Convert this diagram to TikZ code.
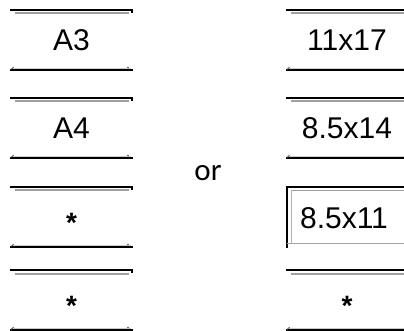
\documentclass[tikz,border=0pt]{standalone}
\usepackage{fontspec}
\setmainfont{Liberation Sans}
\newfontfamily\orfont{Carlito}
\begin{document}
\begin{tikzpicture}[x=1pt,y=-1pt,
  blackline/.style={line width=1.6pt, black},
  grayline/.style={line width=2pt, gray!75},
  thinblack/.style={line width=1.2pt, black},
  tickmark/.style={line width=0.8pt, black!70},
  lbl/.style={font=\fontsize{30}{32}\selectfont, inner sep=0pt, anchor=base},
  starlbl/.style={font=\fontsize{28}{30}\selectfont\bfseries, inner sep=0pt, anchor=base}]
\useasboundingbox (0,0) rectangle (404,331);
\newcommand\paperrow[4]{%
  % #1 x0, #2 x1, #3 top, #4 bottom
  \draw[blackline] (#1,#3) -- (#2,#3);
  \draw[grayline] (#1+5,#3+3.5) -- (#2-4,#3+3.5);
  \fill[black] (#2-2.5,#3) rectangle (#2,#3+3);
  \draw[line width=0.8pt, gray!40] (#1+2,#4-1.8) -- (#2-2,#4-1.8);
  \draw[thinblack] (#1,#4) -- (#2,#4);
  \draw[tickmark] (#1+1,#4-0.5) -- (#1+3.5,#4-2.8);
  \fill[black!70] (#2-5,#4-2.5) circle (0.8);
}
% left column
\paperrow{10}{133}{10}{70}
\paperrow{10}{133}{98}{158}
\paperrow{10}{133}{187}{247}
\paperrow{10}{133}{270}{330}
\node[lbl] (a3) at (71.5,51) {A3};
\node[lbl] (a4) at (71.5,139) {A4};
\node[starlbl] (s1) at (71.5,232) {*};
\node[starlbl] (s2) at (71.5,315) {*};
% or
\node[font=\orfont\fontsize{31}{33}\selectfont, inner sep=0pt, anchor=base] (or) at (208,181) {or};
% right column
\paperrow{286}{410}{10}{70}
\paperrow{286}{410}{98}{158}
\paperrow{286}{410}{270}{330}
% selected box (sunken frame)
\draw[blackline] (286,187) -- (410,187);
\draw[blackline] (287,187) -- (287,248);
\draw[line width=1.5pt, gray!75] (291,190.5) -- (410,190.5);
\draw[line width=1pt, gray!60] (291,190) -- (291,243);
\draw[line width=1pt, gray!70] (287,243.5) -- (410,243.5);
\node[lbl] (r1) at (347,51) {11x17};
\node[lbl] (r2) at (347,139) {8.5x14};
\node[lbl] (r3) at (344,228) {8.5x11};
\node[starlbl] (r4) at (347,315) {*};
\end{tikzpicture}
\end{document}
